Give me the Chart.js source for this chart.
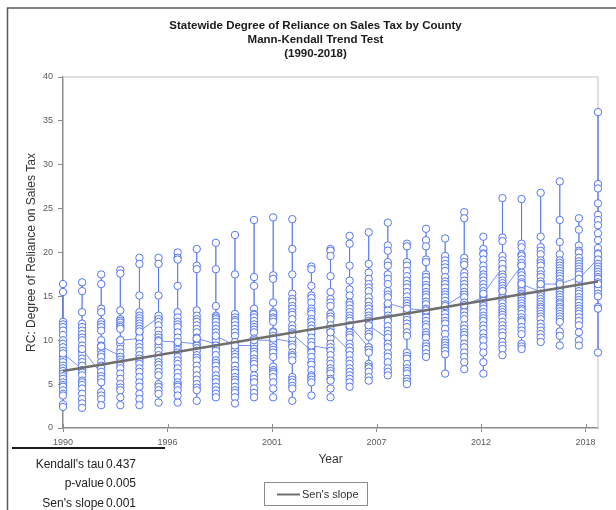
<!DOCTYPE html>
<html>
<head>
<meta charset="utf-8">
<script src="https://cdn.jsdelivr.net/npm/chart.js@4/dist/chart.umd.min.js"></script>
<style>
  html, body { margin: 0; padding: 0; background: #fff; }
  canvas { display: block; }
</style>
</head>
<body>
<canvas id="rcChart" width="616" height="510"></canvas>
<script>
const years = [1990, 1991, 1992, 1993, 1994, 1995, 1996, 1997, 1998, 1999,
               2000, 2001, 2002, 2003, 2004, 2005, 2006, 2007, 2008, 2009,
               2010, 2011, 2012, 2013, 2014, 2015, 2016, 2017, 2018];

// county RC values, one row per year (county order kept as listed)
const rcByYear = [
  [12.1, 16.4, 15.5, 11.8, 11.5, 11.1, 10.6, 10.0, 9.6, 9.2, 8.8, 8.1, 7.8, 7.5, 7.1, 6.8, 6.5, 6.2, 5.9, 5.6, 5.2, 4.9, 4.7, 4.3, 3.9, 3.7, 2.7, 2.4, 8.5],
  [6.7, 16.6, 15.6, 13.2, 11.9, 11.5, 11.1, 10.7, 10.3, 10.0, 9.4, 8.8, 8.4, 7.9, 7.5, 7.1, 6.6, 6.3, 6.0, 5.4, 5.2, 4.9, 4.5, 3.9, 3.3, 2.8, 2.3, 9.0],
  [6.2, 17.5, 16.4, 13.6, 13.2, 12.1, 11.8, 11.5, 11.1, 10.0, 9.4, 9.2, 8.8, 8.4, 8.1, 7.5, 7.1, 6.8, 6.4, 5.9, 5.6, 5.2, 4.1, 3.7, 3.3, 2.6, 9.3],
  [8.2, 18.0, 17.6, 13.4, 12.4, 12.2, 12.0, 11.7, 11.5, 11.3, 10.0, 9.6, 9.0, 8.6, 8.1, 7.8, 7.5, 7.1, 6.8, 6.2, 5.6, 5.0, 4.6, 4.3, 3.5, 2.6, 10.0],
  [10.2, 19.4, 18.7, 15.1, 13.2, 12.8, 12.5, 12.2, 11.9, 11.6, 11.3, 10.9, 10.3, 9.6, 9.2, 8.8, 8.3, 7.9, 7.6, 7.3, 6.8, 6.4, 5.8, 5.2, 4.7, 3.9, 3.3, 2.6, 11.0],
  [12.6, 19.4, 18.7, 15.1, 12.8, 12.4, 12.1, 11.7, 11.1, 10.6, 10.3, 10.0, 9.5, 9.2, 8.8, 8.3, 7.9, 7.5, 7.2, 6.8, 6.4, 6.0, 5.0, 4.7, 4.3, 3.9, 2.9, 9.9],
  [9.8, 20.0, 19.4, 19.2, 16.2, 13.2, 12.6, 12.1, 11.8, 11.5, 10.9, 10.3, 9.5, 9.2, 8.9, 8.6, 8.1, 7.7, 7.3, 6.8, 6.3, 5.8, 5.2, 4.9, 4.7, 4.3, 3.7, 2.9, 9.8],
  [9.6, 20.4, 18.5, 18.1, 13.4, 12.8, 12.4, 12.1, 11.7, 11.3, 10.9, 10.3, 10.0, 9.4, 9.1, 8.8, 8.3, 8.0, 7.7, 7.1, 6.6, 6.0, 5.5, 5.0, 4.6, 4.3, 3.1, 10.2],
  [9.6, 21.1, 18.1, 13.9, 12.8, 12.6, 12.4, 12.1, 11.7, 11.3, 10.9, 10.3, 10.0, 9.4, 9.1, 8.8, 8.3, 7.7, 7.4, 7.1, 6.6, 6.0, 5.6, 5.2, 4.7, 4.3, 3.9, 3.5, 10.5],
  [9.4, 22.0, 17.5, 13.0, 12.6, 12.3, 12.1, 11.7, 11.3, 10.9, 10.5, 9.8, 9.0, 8.8, 8.4, 8.1, 7.7, 7.1, 6.6, 6.3, 5.8, 5.5, 5.2, 4.7, 4.3, 4.0, 3.5, 2.8, 9.4],
  [9.4, 23.7, 17.2, 16.2, 13.6, 13.0, 12.9, 12.6, 12.2, 11.8, 11.5, 11.2, 10.9, 10.2, 9.6, 9.0, 8.7, 8.4, 7.9, 7.6, 7.3, 6.8, 6.0, 5.6, 5.2, 4.5, 4.0, 3.5, 10.0],
  [10.0, 24.0, 17.4, 17.0, 14.3, 13.2, 13.0, 12.6, 12.4, 12.1, 11.0, 10.9, 10.5, 9.6, 9.2, 8.9, 8.6, 8.1, 7.0, 6.6, 6.4, 6.2, 5.8, 5.2, 4.5, 3.5, 10.2],
  [9.8, 23.8, 20.4, 17.5, 15.3, 14.7, 14.4, 13.9, 13.6, 13.2, 12.9, 12.4, 11.7, 11.3, 10.9, 10.2, 9.5, 9.2, 8.6, 8.3, 8.1, 7.7, 5.8, 5.5, 5.2, 4.8, 4.5, 3.1, 10.7],
  [8.8, 18.4, 18.1, 16.2, 15.1, 14.8, 14.3, 13.6, 13.3, 13.0, 12.4, 12.1, 11.7, 11.3, 10.9, 10.3, 9.8, 9.2, 8.6, 8.1, 7.5, 7.2, 6.6, 6.0, 5.8, 5.5, 5.2, 3.7, 9.4],
  [9.0, 20.4, 20.2, 19.6, 17.3, 15.5, 14.7, 14.3, 13.9, 13.0, 12.7, 12.4, 11.7, 11.3, 10.9, 10.2, 9.6, 9.2, 8.8, 8.3, 7.7, 7.3, 6.8, 6.5, 6.2, 5.6, 5.4, 4.5, 3.5, 10.9],
  [8.8, 21.9, 21.0, 18.5, 16.8, 15.8, 15.1, 14.3, 14.0, 13.6, 13.2, 12.8, 12.5, 12.2, 11.5, 10.9, 10.6, 10.3, 9.6, 9.2, 8.8, 8.3, 7.7, 7.3, 6.8, 6.4, 6.0, 5.6, 5.2, 4.7, 11.7],
  [9.2, 22.3, 18.7, 17.7, 17.0, 16.4, 16.0, 15.6, 14.9, 14.4, 13.9, 13.6, 13.2, 12.8, 12.5, 12.2, 11.7, 11.1, 10.7, 10.4, 9.2, 8.9, 8.6, 7.3, 7.0, 6.8, 6.4, 5.8, 5.4, 11.7],
  [10.2, 23.4, 20.8, 20.2, 18.9, 18.5, 17.5, 17.0, 16.4, 15.6, 15.2, 14.9, 14.1, 13.8, 13.4, 12.8, 12.5, 12.2, 11.6, 11.1, 10.7, 10.3, 9.6, 9.2, 8.5, 8.1, 7.5, 6.8, 6.4, 6.0, 14.2],
  [13.6, 21.0, 20.7, 18.9, 18.5, 17.9, 17.3, 16.8, 16.4, 16.0, 15.5, 15.0, 14.5, 14.2, 13.9, 13.2, 12.6, 12.3, 11.9, 11.5, 10.9, 10.5, 8.6, 8.2, 7.9, 7.3, 6.8, 6.5, 6.2, 5.6, 5.3, 5.0, 13.6],
  [13.4, 22.7, 21.4, 20.7, 19.2, 18.9, 17.5, 17.2, 16.8, 16.3, 16.0, 15.5, 15.2, 14.9, 14.4, 14.1, 13.6, 13.0, 12.6, 12.2, 11.8, 11.5, 10.9, 10.6, 10.3, 9.6, 9.3, 9.0, 8.5, 8.1, 13.4],
  [13.9, 21.6, 19.6, 19.1, 18.7, 18.3, 17.9, 17.2, 16.7, 16.4, 16.0, 15.5, 15.2, 14.9, 14.5, 14.1, 13.4, 13.0, 12.6, 12.2, 11.9, 11.3, 10.7, 10.0, 9.7, 9.4, 9.1, 8.8, 8.4, 6.2, 13.9],
  [15.3, 24.6, 23.9, 19.4, 18.9, 18.6, 17.7, 17.3, 16.8, 16.4, 16.0, 15.5, 15.2, 14.9, 14.3, 13.8, 13.5, 13.2, 12.8, 12.4, 11.7, 11.3, 10.9, 10.6, 10.2, 9.6, 9.2, 8.6, 8.1, 7.5, 6.7, 14.0],
  [14.9, 21.8, 20.4, 19.9, 19.8, 19.2, 18.5, 18.0, 17.5, 17.2, 16.8, 16.4, 16.0, 15.6, 15.1, 14.5, 14.2, 13.9, 13.6, 13.2, 12.8, 12.5, 12.2, 11.7, 11.3, 10.8, 10.3, 10.0, 9.3, 8.6, 7.5, 6.2, 15.3],
  [18.3, 26.2, 21.7, 21.3, 19.6, 19.1, 18.7, 18.1, 17.5, 17.2, 16.8, 16.5, 16.2, 15.9, 15.6, 15.1, 14.8, 14.5, 14.2, 13.8, 13.5, 13.2, 12.9, 12.6, 12.1, 11.7, 11.3, 10.9, 10.5, 9.8, 9.4, 9.0, 8.3, 15.6],
  [18.5, 26.1, 21.0, 20.6, 19.8, 19.6, 19.2, 18.8, 18.5, 17.7, 17.4, 17.0, 16.6, 16.2, 15.9, 15.6, 15.3, 15.1, 14.8, 14.5, 14.2, 13.9, 13.6, 13.4, 13.0, 12.6, 12.3, 12.1, 11.5, 11.1, 10.7, 9.6, 9.3, 9.0, 16.4],
  [15.5, 26.8, 21.8, 20.6, 20.2, 19.8, 19.1, 18.8, 18.5, 17.9, 17.5, 17.2, 16.7, 16.4, 16.1, 15.8, 15.3, 15.0, 14.7, 14.4, 14.1, 13.8, 13.6, 13.3, 13.0, 12.7, 12.4, 11.9, 11.5, 11.1, 10.7, 10.3, 9.8, 16.4],
  [16.4, 28.1, 23.7, 21.2, 19.8, 19.1, 18.8, 18.5, 18.2, 17.9, 17.6, 17.3, 17.0, 16.6, 16.3, 16.0, 15.8, 15.5, 15.2, 14.9, 14.6, 14.3, 14.1, 13.8, 13.6, 13.3, 13.0, 12.7, 12.4, 12.1, 11.0, 10.5, 9.4, 16.4],
  [17.2, 23.9, 22.6, 20.8, 20.2, 20.0, 19.4, 19.0, 18.7, 18.4, 18.1, 17.8, 17.5, 16.8, 16.4, 16.0, 15.6, 15.3, 14.9, 14.6, 14.3, 13.9, 13.6, 13.3, 13.0, 12.6, 12.2, 11.7, 10.9, 10.0, 9.4, 17.0],
  [19.3, 36.0, 27.8, 27.3, 25.6, 24.3, 23.7, 23.1, 22.2, 21.4, 20.5, 19.9, 19.8, 19.2, 18.7, 18.4, 18.1, 17.8, 17.5, 17.2, 17.0, 16.6, 16.3, 16.0, 15.8, 15.3, 15.0, 13.8, 13.6, 8.6, 16.4]
];

// Sen's slope trend line end points
const senYears = [1990, 2018];
const senValues = [6.5, 16.7];

const xTickLabels = ['1990', '1996', '2001', '2007', '2012', '2018'];
const xTickStep = 5.47;

const titleLines = [
  'Statewide Degree of Reliance on Sales Tax by County',
  'Mann-Kendall Trend Test',
  '(1990-2018)'
];
const statLabels = ["Kendall's tau", 'p-value', "Sen's slope"];
const statValues = ['0.437', '0.005', '0.001'];

const FONT = "'Liberation Sans', Arial, sans-serif";
const BLUE = 'rgb(84,118,240)';

const rcPoints = [];
years.forEach((yr, i) => {
  rcByYear[i].forEach(v => rcPoints.push({ x: yr, y: v }));
});
const senPoints = senYears.map((yr, i) => ({ x: yr, y: senValues[i] }));

// frame, heading, stats table and legend box
const decorations = {
  id: 'decorations',
  beforeDatasetsDraw(chart) {
    const { ctx, chartArea: a } = chart;
    ctx.save();
    ctx.strokeStyle = '#d6d6d6';
    ctx.lineWidth = 1.5;
    ctx.beginPath();
    ctx.moveTo(a.left, a.top);
    ctx.lineTo(a.right, a.top);
    ctx.lineTo(a.right, a.bottom);
    ctx.stroke();
    ctx.restore();
  },
  afterDraw(chart) {
    const { ctx, chartArea: a, scales } = chart;
    ctx.save();

    ctx.strokeStyle = '#5a5a5a';
    ctx.lineWidth = 1.5;
    ctx.beginPath();
    ctx.moveTo(616, 8);
    ctx.lineTo(7.5, 8);
    ctx.lineTo(7.5, 510);
    ctx.stroke();

    ctx.fillStyle = '#1a1a1a';
    ctx.font = 'bold 11.5px ' + FONT;
    ctx.textAlign = 'center';
    ctx.textBaseline = 'middle';
    titleLines.forEach((t, i) => ctx.fillText(t, 315.5, 26 + i * 14));

    // x ticks cross the axis line
    ctx.strokeStyle = '#8c8c8c';
    ctx.lineWidth = 1;
    scales.x.ticks.forEach(t => {
      const px = Math.round(scales.x.getPixelForValue(t.value)) + 0.5;
      ctx.beginPath();
      ctx.moveTo(px, a.bottom);
      ctx.lineTo(px, a.bottom - 4);
      ctx.stroke();
    });

    ctx.strokeStyle = '#1a1a1a';
    ctx.lineWidth = 2;
    ctx.beginPath();
    ctx.moveTo(12, 448);
    ctx.lineTo(165, 448);
    ctx.stroke();

    ctx.font = '12px ' + FONT;
    ctx.fillStyle = '#222';
    statLabels.forEach((label, i) => {
      const y = 464.5 + i * 19.5;
      ctx.textAlign = 'right';
      ctx.fillText(label, 104, y);
      ctx.textAlign = 'left';
      ctx.fillText(statValues[i], 106, y);
    });

    const sen = chart.data.datasets[0];
    ctx.strokeStyle = '#8c8c8c';
    ctx.lineWidth = 1;
    ctx.strokeRect(264.5, 482.5, 103, 23);
    ctx.strokeStyle = sen.borderColor;
    ctx.lineWidth = 2;
    ctx.beginPath();
    ctx.moveTo(277, 494.5);
    ctx.lineTo(300, 494.5);
    ctx.stroke();
    ctx.fillStyle = '#333';
    ctx.font = '11px ' + FONT;
    ctx.textAlign = 'left';
    ctx.fillText(sen.label, 302, 494.5);

    ctx.restore();
  }
};

new Chart(document.getElementById('rcChart'), {
  type: 'line',
  data: {
    datasets: [
      {
        label: "Sen's slope",
        data: senPoints,
        borderColor: '#6e6e6e',
        borderWidth: 2.5,
        pointRadius: 0,
        clip: false
      },
      {
        label: 'RC',
        data: rcPoints,
        borderColor: 'rgba(84,118,240,0.8)',
        borderWidth: 1,
        pointRadius: 3.7,
        pointBorderWidth: 1,
        pointBorderColor: BLUE,
        pointBackgroundColor: '#fff',
        clip: false
      }
    ]
  },
  options: {
    responsive: false,
    animation: false,
    events: [],
    layout: { padding: { top: 77, left: 0, right: 18, bottom: 42 } },
    plugins: {
      legend: { display: false },
      title: { display: false },
      tooltip: { enabled: false }
    },
    scales: {
      x: {
        type: 'linear',
        min: years[0],
        max: years[years.length - 1],
        afterBuildTicks: (scale) => {
          scale.ticks = xTickLabels.map((_, i) => ({ value: years[0] + i * xTickStep }));
        },
        afterFit: (scale) => { scale.height = 40; },
        border: { color: '#8c8c8c', width: 1.5 },
        grid: { drawOnChartArea: false, tickLength: 4, color: '#8c8c8c' },
        ticks: {
          autoSkip: false,
          maxRotation: 0,
          padding: 5,
          color: '#595959',
          font: { family: FONT, size: 9 },
          callback: (v, i) => xTickLabels[i]
        },
        title: {
          display: true,
          text: 'Year',
          color: '#333',
          font: { family: FONT, size: 12 },
          padding: { top: 4, bottom: 1 }
        }
      },
      y: {
        min: 0,
        max: 40,
        afterFit: (scale) => { scale.width = 63; },
        border: { color: '#8c8c8c', width: 1.5 },
        grid: { drawOnChartArea: false, tickLength: 5, color: '#8c8c8c' },
        ticks: {
          stepSize: 5,
          padding: 5,
          color: '#595959',
          font: { family: FONT, size: 9 }
        },
        title: {
          display: true,
          text: 'RC: Degree of Reliance on Sales Tax',
          color: '#333',
          font: { family: FONT, size: 12 },
          padding: { top: 24, bottom: 0 }
        }
      }
    }
  },
  plugins: [decorations]
});
</script>
</body>
</html>
